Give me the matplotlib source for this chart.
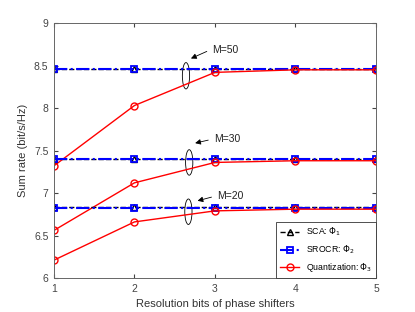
import numpy as np
import matplotlib.pyplot as plt
from matplotlib.patches import Ellipse

bits = [1, 2, 3, 4, 5]

# sum rate (bit/s/Hz) for each number of RIS elements M
sca_m50 = [8.46, 8.46, 8.46, 8.46, 8.46]
srocr_m50 = [8.46, 8.46, 8.46, 8.46, 8.46]
quant_m50 = [7.32, 8.03, 8.42, 8.45, 8.45]

sca_m30 = [7.40, 7.40, 7.40, 7.40, 7.40]
srocr_m30 = [7.40, 7.40, 7.40, 7.40, 7.40]
quant_m30 = [6.56, 7.12, 7.36, 7.38, 7.38]

sca_m20 = [6.83, 6.83, 6.83, 6.83, 6.83]
srocr_m20 = [6.82, 6.82, 6.82, 6.82, 6.82]
quant_m20 = [6.21, 6.66, 6.79, 6.81, 6.81]

labels = ['M=50', 'M=30', 'M=20']
# ellipse (x, y centre, height) and arrow (text pos, tip pos) for each group
ell = [(2.64, 8.38, 0.31), (2.68, 7.36, 0.30), (2.67, 6.78, 0.30)]
txt = [(2.97, 8.68), (2.99, 7.63), (3.03, 6.96)]
tip = [(2.67, 8.57), (2.72, 7.58), (2.75, 6.90)]

plt.rcParams['font.family'] = 'Liberation Sans'
fig = plt.figure(figsize=(4.15, 3.12), dpi=100)
ax = fig.add_axes([0.130, 0.109, 0.776, 0.817])

groups = [(sca_m50, srocr_m50, quant_m50), (sca_m30, srocr_m30, quant_m30),
          (sca_m20, srocr_m20, quant_m20)]
for i, (sca, srocr, quant) in enumerate(groups):
    ax.plot(bits, sca, color='black', linestyle='--', marker='^', markersize=5,
            markerfacecolor='none', linewidth=1.0,
            label='SCA: $\\Phi_1$' if i == 0 else None)
    ax.plot(bits, srocr, color='blue', linestyle='-.', marker='s', markersize=4,
            markerfacecolor='none', markeredgewidth=1.3, linewidth=1.5,
            label='SROCR: $\\Phi_2$' if i == 0 else None)
    ax.plot(bits, quant, color='red', linestyle='-', marker='o', markersize=5,
            markerfacecolor='none', linewidth=1.0,
            label='Quantization: $\\Phi_3$' if i == 0 else None)

for (ex, ey, eh), (tx, ty), (hx, hy), lab in zip(ell, txt, tip, labels):
    ax.add_patch(Ellipse((ex, ey), 0.09, eh, fill=False, edgecolor='black',
                         linewidth=0.6))
    ax.annotate('', xy=(hx, hy), xytext=(tx - 0.04, ty),
                arrowprops=dict(arrowstyle='-|>', color='black', lw=0.6,
                                mutation_scale=8))
    ax.text(tx, ty, lab, fontsize=7.5, va='center', ha='left', color='#222222')

ax.set_xlim(1, 5)
ax.set_ylim(6, 9)
ax.set_xticks(bits)
ax.set_yticks([6, 6.5, 7, 7.5, 8, 8.5, 9])
ax.set_yticklabels(['6', '6.5', '7', '7.5', '8', '8.5', '9'])
ax.tick_params(direction='in', labelsize=7.5, colors='#444444', length=3,
               pad=4, top=True, right=True)
for s in ax.spines.values():
    s.set_color('#666666')
    s.set_linewidth(0.7)
ax.set_xlabel('Resolution bits of phase shifters', fontsize=8, color='#333333')
ax.set_ylabel('Sum rate (bit/s/Hz)', fontsize=8, color='#333333')

leg = ax.legend(loc='lower right', fontsize=6.3, fancybox=False,
                framealpha=1, edgecolor='#333333', borderaxespad=0,
                handlelength=2.2, labelspacing=0.6, borderpad=0.4)
leg.get_frame().set_linewidth(0.6)

fig.savefig('out.png', dpi=100)
